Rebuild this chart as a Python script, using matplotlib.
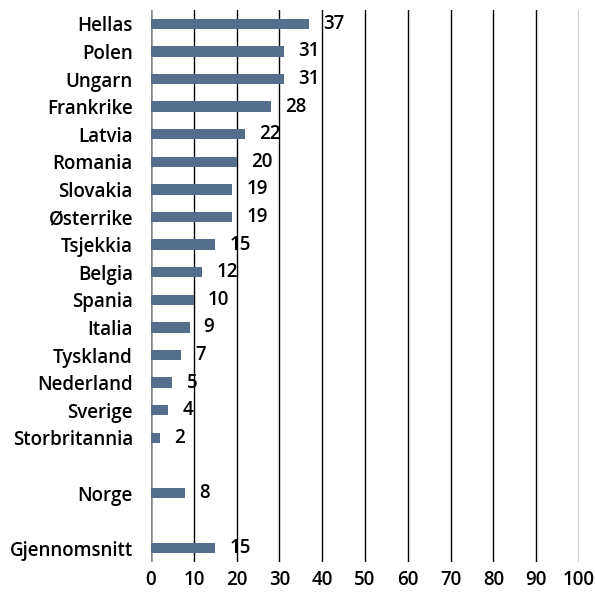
import matplotlib.pyplot as plt
import numpy as np

plt.rcParams['font.family'] = ['Open Sans', 'DejaVu Sans']

countries = ["Hellas", "Polen", "Ungarn", "Frankrike", "Latvia", "Romania",
             "Slovakia", "Østerrike", "Tsjekkia", "Belgia", "Spania", "Italia",
             "Tyskland", "Nederland", "Sverige", "Storbritannia"]
country_vals = [37, 31, 31, 28, 22, 20, 19, 19, 15, 12, 10, 9, 7, 5, 4, 2]
norway = ("Norge", 8)
average = ("Gjennomsnitt", 15)

labels = countries + ["", norway[0], "", average[0]]
values = country_vals + [None, norway[1], None, average[1]]

fig = plt.figure(figsize=(5.95, 5.92), dpi=100)
ax = fig.add_axes([151 / 595, 30 / 592, 428 / 595, 552 / 592])

bar_color = "#546e8c"
fs = 13.5
fw = "semibold"
pos = np.arange(len(labels))
for p, v in zip(pos, values):
    if v is None:
        continue
    ax.barh(p, v, height=0.37, color=bar_color, zorder=3)
    ax.text(v + 3.3, p, str(v), va="center", ha="left", fontsize=fs,
            fontweight=fw, color="black", zorder=4)

ax.set_ylim(len(labels) - 0.5, -0.5)
ax.set_xlim(0, 100)
ax.set_xticks(range(0, 101, 10))
ax.set_yticks(pos)
ax.set_yticklabels(labels, fontweight=fw)
ax.tick_params(axis="y", length=0, pad=13, labelsize=fs)
ax.tick_params(axis="x", length=0, pad=6, labelsize=fs)
for t in ax.get_xticklabels():
    t.set_fontweight(fw)

for x in range(10, 101, 10):
    ax.axvline(x, color="black", linewidth=1, zorder=1)
ax.axvline(0, color="#888888", linewidth=1.8, zorder=2)

for s in ax.spines.values():
    s.set_visible(False)

fig.savefig("out.png", dpi=100)
